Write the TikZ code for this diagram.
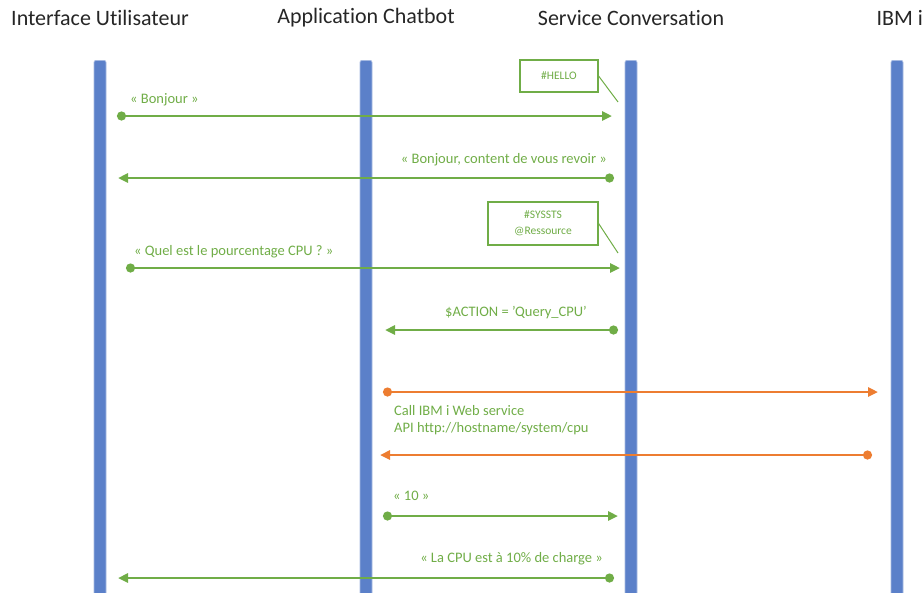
\documentclass[tikz,border=0pt]{standalone}
\usepackage{fontspec}
\setmainfont{Carlito}[Ligatures=NoCommon]
\usetikzlibrary{arrows.meta}
\definecolor{lineblue}{HTML}{5B80C9}
\definecolor{msggreen}{HTML}{70AD47}
\definecolor{msgorange}{HTML}{ED7D31}
\tikzset{
  lifeline/.style={fill=lineblue, draw=lineblue!55, line width=0.8pt, rounded corners=2pt,
    minimum width=12pt, minimum height=560pt, inner sep=0pt, anchor=north},
  heading/.style={font=\fontsize{22}{26}\selectfont, text=black!85},
  msglabel/.style={font=\fontsize{14.5}{17}\selectfont, text=msggreen, inner sep=0pt},
  msg/.style={line width=2.6pt, draw=msggreen,
    {Circle[length=9pt]}-{Triangle[length=10pt,width=9pt]}},
  call/.style={msg, draw=msgorange},
  note/.style={draw=msggreen, line width=1.2pt, fill=white, align=center,
    font=\fontsize{11.5}{16}\selectfont, text=msggreen},
  noteline/.style={draw=msggreen, line width=1pt}
}
\newcommand{\msgends}[5]{\coordinate (#1a) at (#2,#4); \coordinate (#1b) at (#3,#4);
  \draw[#5] (#1a) -- (#1b);}

\begin{document}
\begin{tikzpicture}[x=1pt,y=-1pt]
        \useasboundingbox (0,0) rectangle (923,592);
        \clip (0,0) rectangle (923,592);
        % headings
        \node[heading] (tui) at (100,18) {Interface Utilisateur};
        \node[heading] (tbot) at (366,18) {Application Chatbot};
        \node[heading] (tsvc) at (631,18) {Service Conversation};
        \node[heading, anchor=west] (tibm) at (873,18) {IBM i};
        % lifelines
        \node[lifeline] (ui) at (100,60) {};
        \node[lifeline] (bot) at (366,60) {};
        \node[lifeline] (svc) at (631,60) {};
        \node[lifeline] (ibm) at (897,60) {};
        % notes
        \node[note, minimum width=78pt, minimum height=32pt] (hello) at (559,76) {\#HELLO};
        \coordinate (hellotip) at (618,102);
        \draw[noteline] (hello.east) -- (hellotip);
        \node[note, minimum width=110pt, minimum height=43pt] (sys) at (543,223.5) {\#SYSSTS\\@Ressource};
        \coordinate (systip) at (618,253);
        \draw[noteline] (sys.east) -- (systip);
        % messages
        \msgends{m1}{117}{612}{116}{msg}
        \msgends{m2}{614}{118}{178}{msg}
        \msgends{m3}{126}{620}{268}{msg}
        \msgends{m4}{618}{385}{330}{msg}
        \msgends{m5}{383}{878}{392}{call}
        \msgends{m6}{872}{380}{455}{call}
        \msgends{m7}{383}{618}{516}{msg}
        \msgends{m8}{614}{118}{578}{msg}
        % labels
        \node[msglabel, anchor=west] (l1) at (130,100) {«~Bonjour~»};
        \node[msglabel, anchor=east] (l2) at (607,160) {«~Bonjour, content de vous revoir~»};
        \node[msglabel, anchor=west] (l3) at (134,252) {«~Quel est le pourcentage CPU ?~»};
        \node[msglabel] (l4) at (516,313) {\$ACTION = 'Query\_CPU'};
        \node[msglabel, anchor=west] (l5a) at (394,411) {Call IBM i Web service};
        \node[msglabel, anchor=west] (l5b) at (394,429) {API http://hostname/system/cpu};
        \node[msglabel, anchor=west] (l7) at (393,496) {«~10~»};
        \node[msglabel, anchor=east] (l8) at (603,559) {«~La CPU est à 10\% de charge~»};
    \end{tikzpicture}
\end{document}
